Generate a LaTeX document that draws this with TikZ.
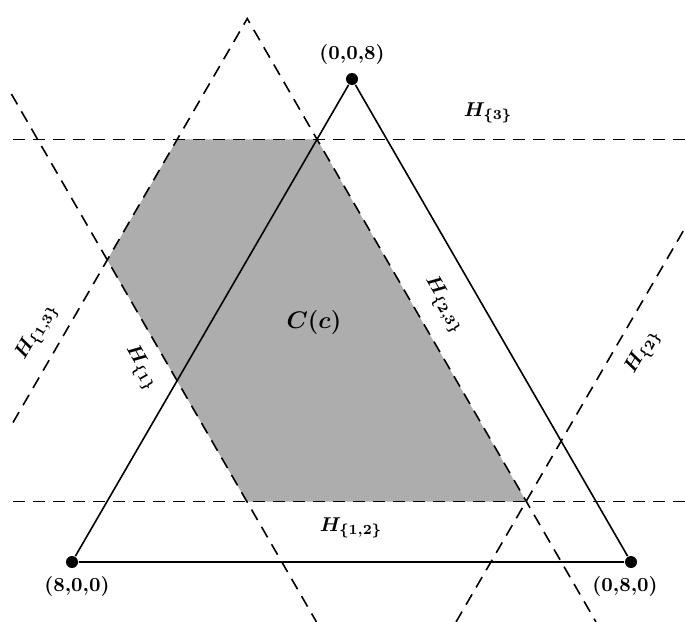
\documentclass[tikz,border=0pt]{standalone}
\usepackage{amsmath,amssymb,bm}
\usetikzlibrary{positioning}

\begin{document}
\begin{tikzpicture}[x=0.5pt,y=-0.5pt,thick,
    hyper/.style={dash pattern=on 6pt off 4pt},
    vertex/.style={circle,fill,inner sep=0pt,minimum size=6pt},
    hlabel/.style={font=\normalsize}]
    \useasboundingbox (0,0) rectangle (685,621);

    \node[vertex] (A) at (72,562) {};
    \node[vertex] (B) at (631,562) {};
    \node[vertex] (C) at (352,79) {};

    \coordinate (p1) at (177.25,139.4);
    \coordinate (p2) at (317,139.4);
    \coordinate (p3) at (526.25,501.6);
    \coordinate (p4) at (246.75,501.6);
    \coordinate (p5) at (107.25,260.1);
    \coordinate (apex) at (247.25,18.6);

    \coordinate (h3l) at (13,139.4);
    \coordinate (h3r) at (685,139.4);
    \coordinate (h12l) at (13,501.6);
    \coordinate (h12r) at (685,501.6);
    \coordinate (h1t) at (11.4,94);
    \coordinate (h1b) at (316.5,622);
    \coordinate (h23b) at (596,622);
    \coordinate (h13b) at (13,422.5);
    \coordinate (h2b) at (456,622);
    \coordinate (h2t) at (685,228);

    \fill[black!32] (p1) -- (p2) -- (p3) -- (p4) -- (p5) -- cycle;

    \draw[hyper] (h3l) -- (h3r);
    \draw[hyper] (h12l) -- (h12r);
    \draw[hyper] (h1t) -- (h1b);
    \draw[hyper] (h13b) -- (apex) -- (h23b);
    \draw[hyper] (h2b) -- (h2t);

    \draw (A) -- (B) -- (C) -- (A);

    \node[below=0pt of A,xshift=2.5pt] (Alab) {\textbf{(8,0,0)}};
    \node[below=0pt of B,xshift=-3pt] (Blab) {\textbf{(0,8,0)}};
    \node[above=0pt of C] (Clab) {\textbf{(0,0,8)}};

    \node[hlabel] (H3) at (488,113) {$\bm{H_{\{3\}}}$};
    \node[hlabel] (H12) at (351,528) {$\bm{H_{\{1,2\}}}$};
    \node[hlabel,rotate=-60] (H23) at (444,305) {$\bm{H_{\{2,3\}}}$};
    \node[hlabel,rotate=-60] (H1) at (141,368) {$\bm{H_{\{1\}}}$};
    \node[hlabel,rotate=60] (H13) at (37,332) {$\bm{H_{\{1,3\}}}$};
    \node[hlabel,rotate=60] (H2) at (643,352) {$\bm{H_{\{2\}}}$};
    \node[font=\large] (Cc) at (314,322) {$\bm{C(c)}$};
\end{tikzpicture}
\end{document}
